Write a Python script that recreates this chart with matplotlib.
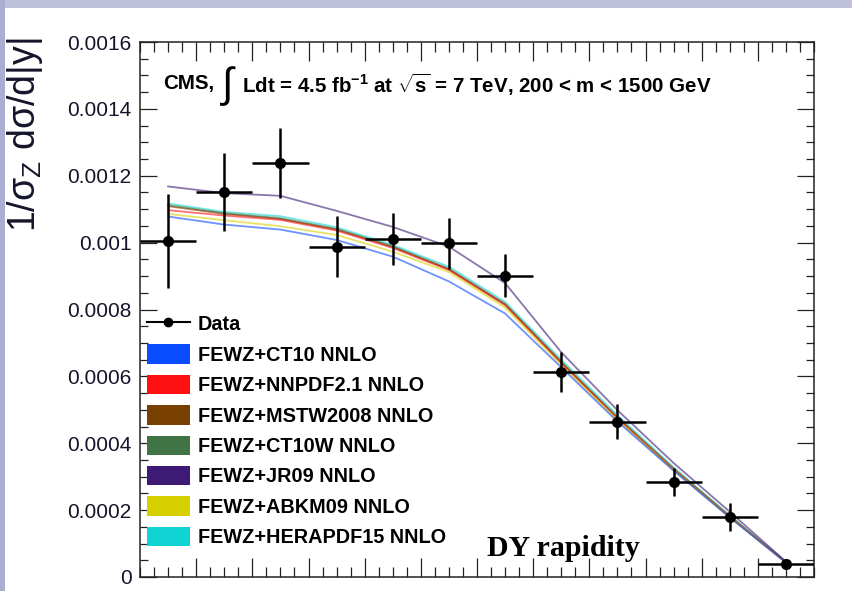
import numpy as np
import matplotlib
matplotlib.use("Agg")
import matplotlib.pyplot as plt
from matplotlib.lines import Line2D
from matplotlib.patches import Patch, Rectangle

plt.rcParams["font.family"] = ["Liberation Sans", "DejaVu Sans"]
plt.rcParams["mathtext.fontset"] = "custom"
plt.rcParams["mathtext.rm"] = "Liberation Sans"
plt.rcParams["mathtext.it"] = "Liberation Sans:italic"
plt.rcParams["mathtext.bf"] = "Liberation Sans:bold"

# |y| bins of 0.2 from 0 to 2.4
bin_edges = np.round(np.arange(0, 2.41, 0.2), 2)
bin_centers = 0.5 * (bin_edges[:-1] + bin_edges[1:])

data_y = [1.005e-3, 1.152e-3, 1.238e-3, 0.988e-3, 1.010e-3, 0.998e-3,
          0.901e-3, 0.613e-3, 0.465e-3, 0.285e-3, 0.179e-3, 0.039e-3]
data_err = [0.140e-3, 0.117e-3, 0.106e-3, 0.092e-3, 0.078e-3, 0.076e-3,
            0.064e-3, 0.059e-3, 0.051e-3, 0.042e-3, 0.041e-3, 0.004e-3]

ct10 = [1.078e-3, 1.054e-3, 1.039e-3, 1.008e-3, 0.958e-3, 0.884e-3,
        0.788e-3, 0.627e-3, 0.465e-3, 0.318e-3, 0.178e-3, 0.043e-3]
nnpdf = [1.097e-3, 1.081e-3, 1.068e-3, 1.036e-3, 0.984e-3, 0.918e-3,
         0.813e-3, 0.640e-3, 0.474e-3, 0.322e-3, 0.180e-3, 0.044e-3]
mstw = [1.109e-3, 1.086e-3, 1.071e-3, 1.039e-3, 0.987e-3, 0.920e-3,
        0.815e-3, 0.641e-3, 0.476e-3, 0.323e-3, 0.181e-3, 0.044e-3]
ct10w = [1.112e-3, 1.088e-3, 1.073e-3, 1.041e-3, 0.989e-3, 0.922e-3,
         0.817e-3, 0.644e-3, 0.478e-3, 0.324e-3, 0.182e-3, 0.044e-3]
jr09 = [1.168e-3, 1.148e-3, 1.140e-3, 1.095e-3, 1.047e-3, 0.988e-3,
        0.879e-3, 0.672e-3, 0.499e-3, 0.341e-3, 0.195e-3, 0.046e-3]
abkm = [1.086e-3, 1.067e-3, 1.049e-3, 1.023e-3, 0.973e-3, 0.912e-3,
        0.806e-3, 0.634e-3, 0.470e-3, 0.320e-3, 0.179e-3, 0.043e-3]
hera = [1.117e-3, 1.092e-3, 1.079e-3, 1.046e-3, 0.993e-3, 0.928e-3,
        0.823e-3, 0.650e-3, 0.484e-3, 0.328e-3, 0.184e-3, 0.045e-3]

pdf_names = ["FEWZ+CT10 NNLO", "FEWZ+NNPDF2.1 NNLO", "FEWZ+MSTW2008 NNLO",
             "FEWZ+CT10W NNLO", "FEWZ+JR09 NNLO", "FEWZ+ABKM09 NNLO",
             "FEWZ+HERAPDF15 NNLO"]
pdf_curves = [ct10, nnpdf, mstw, ct10w, jr09, abkm, hera]
pdf_colors = ["#0a4cff", "#ff1010", "#773f00", "#417444", "#3c1a76",
              "#d6d000", "#10d4d4"]

fig = plt.figure(figsize=(8.52, 5.91), dpi=100, facecolor="white")
# slide border strips
fig.patches.append(Rectangle((0, 1 - 8 / 591), 1, 8 / 591, transform=fig.transFigure,
                             facecolor="#bfc0da", edgecolor="none", zorder=-1))
fig.patches.append(Rectangle((0, 0), 5 / 852, 1, transform=fig.transFigure,
                             facecolor="#abaed2", edgecolor="none", zorder=-1))

ax = fig.add_axes([140 / 852, 1 - 577 / 591, 674 / 852, 535 / 591])

# theory curves, drawn under the data
order = [6, 3, 2, 1, 5, 0, 4]
for i in order:
    ax.plot(bin_centers, pdf_curves[i], color=pdf_colors[i], lw=1.3, alpha=0.6, zorder=2)

ax.errorbar(bin_centers, data_y, xerr=0.1, yerr=data_err, fmt="o", color="black",
            ms=7, elinewidth=1.8, capsize=0, zorder=5)

ax.set_xlim(0, 2.4)
ax.set_ylim(0, 0.0016)
ax.set_xticks(np.arange(0.2, 2.4, 0.2))
ax.set_xticks(np.arange(0, 2.41, 0.05), minor=True)
ax.set_xticklabels([])
ax.set_yticks(np.arange(0, 0.00161, 0.0002))
ax.set_yticks(np.arange(0, 0.00161, 0.00005), minor=True)
ax.set_yticklabels(["0", "0.0002", "0.0004", "0.0006", "0.0008", "0.001",
                    "0.0012", "0.0014", "0.0016"])
ax.tick_params(axis="both", which="both", direction="in", top=True, right=True,
               width=0.9, colors="#222222")
ax.tick_params(axis="x", which="major", length=14)
ax.tick_params(axis="x", which="minor", length=7)
ax.tick_params(axis="y", which="major", length=12, pad=6, labelsize=15,
               labelcolor="#14142a")
ax.tick_params(axis="y", which="minor", length=6)
for s in ax.spines.values():
    s.set_linewidth(1.1)
    s.set_color("#222222")

ax.set_ylabel(r"1/$\mathrm{\sigma_Z}$ d$\mathrm{\sigma}$/d|y|", fontsize=27,
              color="#14142a")
ax.yaxis.set_label_coords(-0.141, 0.826)

# header: the integral sign is set larger than the rest
t1 = ax.text(23 / 674, 0.912, "CMS,", transform=ax.transAxes, fontsize=14.8,
             fontweight="bold", va="baseline", ha="left")
ax.annotate(r"$\int$", xy=(1, 0), xycoords=t1, xytext=(4, -3),
            textcoords="offset points", fontsize=30, va="baseline", ha="left")
ax.annotate(r"Ldt = 4.5 fb$^{\mathbf{-1}}$ at $\sqrt{\mathbf{s}}$ = 7 TeV, 200 < m < 1500 GeV",
            xy=(1, 0), xycoords=t1, xytext=(20, 0), textcoords="offset points",
            fontsize=14.8, fontweight="bold", va="baseline", ha="left")

ax.text(0.515, 0.054, "DY rapidity", transform=ax.transAxes, fontsize=21.5,
        fontweight="bold", family="Liberation Serif", va="center", ha="left")

handles = [Line2D([], [], color="black", marker="o", ms=6, lw=1.5)]
handles += [Patch(facecolor=c, edgecolor="none") for c in pdf_colors]
labels = ["Data"] + pdf_names
ax.legend(handles, labels, loc="upper left", bbox_to_anchor=(0.0104, 0.4916),
          frameon=False, borderpad=0, borderaxespad=0, handlelength=2.16,
          handleheight=1.13, labelspacing=0.5, handletextpad=0.41,
          prop={"size": 14.3, "weight": "bold"})

fig.savefig("out.png", dpi=100)
